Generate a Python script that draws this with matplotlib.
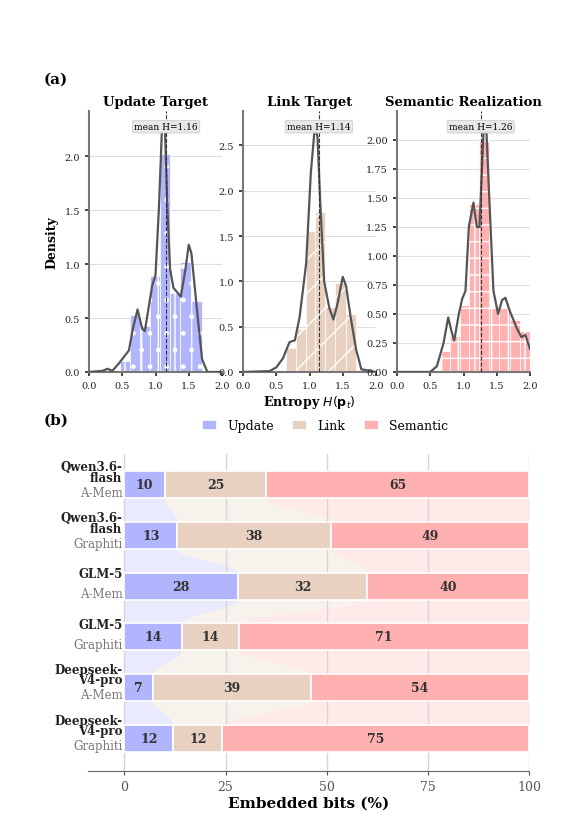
import numpy as np
import matplotlib
matplotlib.use("Agg")
import matplotlib.pyplot as plt

plt.rcParams['font.family'] = ['DejaVu Serif']
plt.rcParams['hatch.color'] = 'white'
plt.rcParams['hatch.linewidth'] = 1.0

# ---------- data (a) ----------
titles = ["Update Target", "Link Target", "Semantic Realization"]
means = [1.16, 1.14, 1.26]
upd_edges = [0.46, 0.61, 0.77, 0.92, 1.07, 1.22, 1.37, 1.53, 1.70]
upd_hist = [0.10, 0.53, 0.43, 0.89, 2.02, 0.73, 1.02, 0.66]
lnk_edges = [0.64, 0.79, 0.94, 1.09, 1.24, 1.39, 1.55, 1.70]
lnk_hist = [0.27, 0.48, 1.56, 1.77, 0.72, 0.98, 0.64]
sem_edges = [0.64, 0.79, 0.94, 1.09, 1.24, 1.39, 1.54, 1.70, 1.85, 2.00]
sem_hist = [0.18, 0.31, 0.58, 1.45, 2.00, 0.56, 0.55, 0.45, 0.35]
upd_kde_x = [0, 0.2, 0.28, 0.35, 0.45, 0.6, 0.66, 0.73, 0.8, 0.84, 0.95, 1.0, 1.05, 1.1, 1.14, 1.18, 1.22, 1.27, 1.38, 1.45, 1.5, 1.54, 1.62, 1.7, 1.78, 2.0]
upd_kde_y = [0, 0.01, 0.03, 0.01, 0.08, 0.2, 0.4, 0.58, 0.4, 0.38, 0.8, 0.9, 1.5, 2.3, 2.3, 1.5, 0.95, 0.78, 0.7, 0.95, 1.18, 1.1, 0.6, 0.12, 0.0, 0]
lnk_kde_x = [0, 0.4, 0.5, 0.6, 0.7, 0.78, 0.85, 0.95, 1.02, 1.08, 1.12, 1.16, 1.22, 1.3, 1.36, 1.42, 1.5, 1.55, 1.62, 1.7, 1.78, 2.0]
lnk_kde_y = [0, 0.01, 0.05, 0.15, 0.33, 0.35, 0.6, 1.2, 2.2, 2.7, 2.6, 1.9, 1.0, 0.7, 0.58, 0.75, 1.05, 0.95, 0.6, 0.25, 0.03, 0]
sem_kde_x = [0, 0.5, 0.6, 0.7, 0.77, 0.82, 0.86, 0.93, 0.98, 1.03, 1.08, 1.15, 1.2, 1.24, 1.3, 1.34, 1.38, 1.45, 1.52, 1.58, 1.63, 1.7, 1.8, 1.87, 1.93, 2.0]
sem_kde_y = [0, 0.0, 0.05, 0.25, 0.47, 0.35, 0.27, 0.5, 0.63, 0.7, 1.25, 1.46, 1.25, 1.25, 2.05, 2.14, 1.6, 0.7, 0.5, 0.62, 0.64, 0.52, 0.38, 0.3, 0.32, 0.2]

# ---------- data (b) ----------
models = ["Qwen3.6-\nflash", "Qwen3.6-\nflash", "GLM-5", "GLM-5", "Deepseek-\nV4-pro", "Deepseek-\nV4-pro"]
systems = ["A-Mem", "Graphiti", "A-Mem", "Graphiti", "A-Mem", "Graphiti"]
update = [10, 13, 28, 14, 7, 12]
link = [25, 38, 32, 14, 39, 12]
semantic = [65, 49, 40, 71, 54, 75]
series_names = ["Update", "Link", "Semantic"]
xticks_b = [0, 25, 50, 75, 100]

colors = ["#b0b5fd", "#e8d1c0", "#ffb1b1"]
hatches = ["|.", "/", "+"]

W, H = 570, 820
fig = plt.figure(figsize=(5.7, 8.2), dpi=100)

def ax_px(l, t, r, b):
    return fig.add_axes([l / W, 1 - b / H, (r - l) / W, (b - t) / H])

hists = [(upd_edges, upd_hist, upd_kde_x, upd_kde_y, 2.42, [0, 0.5, 1.0, 1.5, 2.0], "{:.1f}"),
         (lnk_edges, lnk_hist, lnk_kde_x, lnk_kde_y, 2.88, [0, 0.5, 1.0, 1.5, 2.0, 2.5], "{:.1f}"),
         (sem_edges, sem_hist, sem_kde_x, sem_kde_y, 2.25, [0, 0.25, 0.5, 0.75, 1.0, 1.25, 1.5, 1.75, 2.0], "{:.2f}")]
lefts = [89, 243, 397]
for i, (edges, hv, kx, ky, ytop, yt, fmt) in enumerate(hists):
    ax = ax_px(lefts[i], 112, lefts[i] + 133, 373)
    ax.bar(edges[:-1], hv, width=np.diff(edges), align='edge', color=colors[i],
           edgecolor='white', linewidth=0.5, hatch=hatches[i], zorder=2)
    ax.plot(kx, ky, color='#555555', lw=1.6, zorder=3)
    ax.axvline(means[i], color='#333333', ls='--', lw=0.8, zorder=4)
    ax.text(means[i], ytop * 0.94, f"mean H={means[i]:.2f}", ha='center', va='center', fontsize=6.5,
            bbox=dict(boxstyle='round,pad=0.2', fc='#e8e8e8', ec='#cccccc', lw=0.6), zorder=5)
    ax.set_xlim(0, 2.0)
    ax.set_ylim(0, ytop)
    ax.set_yticks(yt)
    ax.set_yticklabels([fmt.format(v) for v in yt])
    ax.set_xticks([0, 0.5, 1.0, 1.5, 2.0])
    ax.tick_params(labelsize=7, width=1.2, length=3, colors='#222222')
    ax.grid(axis='y', color='#dddddd', lw=0.8, zorder=0)
    for s in ['top', 'right']:
        ax.spines[s].set_visible(False)
    for s in ['left', 'bottom']:
        ax.spines[s].set_color('#777777')
        ax.spines[s].set_linewidth(1.5)
    ax.set_title(titles[i], fontsize=9.5, fontweight='bold', pad=4)
    if i == 0:
        ax.set_ylabel("Density", fontsize=9, fontweight='bold')
    if i == 1:
        ax.set_xlabel(r"Entropy $H(\mathbf{p}_t)$", fontsize=9, fontweight='bold', labelpad=2)

fig.text(44 / W, 1 - 80 / H, "(a)", fontsize=11, fontweight='bold', va='center')
fig.text(44 / W, 1 - 421 / H, "(b)", fontsize=11, fontweight='bold', va='center')

# ---------- (b) ----------
ax = ax_px(88, 455, 529, 772)
data = np.array([update, link, semantic], dtype=float)
widths = data / data.sum(axis=0) * 100
n = len(models)
ys = np.arange(n)
h = 0.53
cum = np.vstack([np.zeros(n), np.cumsum(widths, axis=0)])
for k in range(3):
    ax.barh(ys, widths[k], left=cum[k], height=h, color=colors[k], edgecolor='white',
            linewidth=1.2, label=series_names[k], zorder=3)
    for j in range(n):
        ax.text(cum[k][j] + widths[k][j] / 2, ys[j], str(int(data[k][j])), ha='center', va='center',
                fontsize=9, fontweight='bold', color='#333333', zorder=4)
t = np.linspace(0, 1, 50)
sm = 0.5 - 0.5 * np.cos(np.pi * t)
for j in range(n - 1):
    y0 = ys[j] + h / 2
    y1 = ys[j + 1] - h / 2
    yy = y0 + (y1 - y0) * t
    for k in range(3):
        l = cum[k][j] + (cum[k][j + 1] - cum[k][j]) * sm
        r = cum[k + 1][j] + (cum[k + 1][j + 1] - cum[k + 1][j]) * sm
        ax.fill_betweenx(yy, l, r, color=colors[k], alpha=0.28, lw=0, zorder=1)
ax.set_xlim(-9, 100)
ax.set_ylim(n - 1 + 0.65, -0.61)
ax.set_xticks(xticks_b)
ax.set_yticks([])
ax.tick_params(axis='x', labelsize=9, colors='#555555', length=3)
ax.grid(axis='x', color='#d5d5d5', lw=1.0, zorder=0)
for s in ['top', 'right', 'left']:
    ax.spines[s].set_visible(False)
ax.spines['bottom'].set_color('#666666')
ax.set_xlabel("Embedded bits (%)", fontsize=11, fontweight='bold', labelpad=2)
for j in range(n):
    two = "\n" in models[j]
    ax.text(-0.5, ys[j] - (0.02 if two else 0.12), models[j], ha='right', va='bottom', fontsize=8.5,
            fontweight='bold', color='#222222', linespacing=0.75)
    ax.text(-0.5, ys[j] + 0.02, systems[j], ha='right', va='top', fontsize=8.5, color='#777777')
fig.legend(*ax.get_legend_handles_labels(), loc='center', bbox_to_anchor=(325 / W, 1 - 427 / H),
           ncol=3, frameon=False, fontsize=9, handlelength=1.2, handleheight=0.8, columnspacing=1.5)

fig.savefig("out.png", dpi=100)
